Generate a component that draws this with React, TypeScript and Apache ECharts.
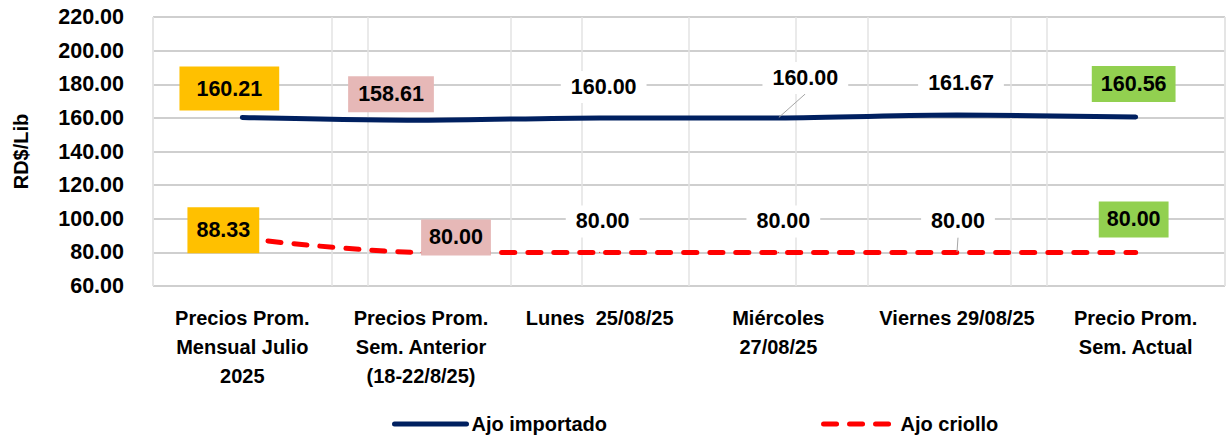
import React, { useEffect, useRef } from "react";
import * as echarts from "echarts";

const categories = [
  "Precios Prom.\nMensual Julio\n2025",
  "Precios Prom.\nSem. Anterior\n(18-22/8/25)",
  "Lunes  25/08/25",
  "Miércoles\n27/08/25",
  "Viernes 29/08/25",
  "Precio Prom.\nSem. Actual",
];
const importado = [160.21, 158.61, 160.0, 160.0, 161.67, 160.56];
const criollo = [88.33, 80.0, 80.0, 80.0, 80.0, 80.0];
const seriesNames = ["Ajo importado", "Ajo criollo"];
const yTicks = { min: 60, max: 220, interval: 20 };

const FONT = "'Liberation Sans', Arial, sans-serif";
const ORANGE = "#FFC000";
const PINK = "#E6B8B7";
const GREEN = "#92D050";
const bgColors = [ORANGE, PINK, "#FFFFFF", "#FFFFFF", "#FFFFFF", GREEN];

const blueOffsets = [
  [-13, -29],
  [-30, -26],
  [4, -31],
  [27, -40],
  [4, -32],
  [-2, -33],
];
const redOffsets = [
  [-19, -8],
  [35, -15],
  [3, -31],
  [5, -31],
  [1, -31],
  [-2, -33],
];
const bluePads = [
  [11, 17],
  [7, 10],
  [5, 10],
  [5, 10],
  [5, 10],
  [7, 9],
];
const redPads = [
  [12, 9],
  [7, 8],
  [5, 10],
  [5, 10],
  [5, 10],
  [7, 8],
];
const blueLeader = [false, false, false, true, false, false];
const redLeader = [false, false, false, false, true, false];

function buildData(values: number[], offsets: number[][], pads: number[][], leaders: boolean[]) {
  return values.map((v, i) => ({
    value: v,
    label: {
      offset: offsets[i],
      backgroundColor: bgColors[i],
      padding: pads[i],
    },
    labelLine: { show: leaders[i], lineStyle: { color: "#A6A6A6", width: 1 } },
  }));
}

export default function App() {
  const ref = useRef<HTMLDivElement>(null);
  useEffect(() => {
    if (!ref.current) return;
    const chart = echarts.init(ref.current, null, { renderer: "svg" });
    const labelBase = {
      show: true,
      position: "inside",
      fontFamily: FONT,
      fontWeight: "bold",
      fontSize: 21.5,
      color: "#000",
      formatter: (p: any) => Number(p.value).toFixed(2),
    };
    chart.setOption({
      animation: false,
      backgroundColor: "#fff",
      grid: { left: 153, right: 5, top: 17, bottom: 150, containLabel: false },
      xAxis: [
        {
          type: "category",
          data: categories,
          boundaryGap: true,
          axisLine: { show: false },
          axisTick: { show: false },
          axisLabel: {
            interval: 0,
            margin: 17,
            fontFamily: FONT,
            fontWeight: "bold",
            fontSize: 20,
            lineHeight: 29,
            color: "#000",
          },
          splitLine: { show: true, lineStyle: { color: "#E3E3E3", width: 1.5 } },
        },
        {
          type: "category",
          data: categories,
          boundaryGap: false,
          position: "bottom",
          axisLine: { show: false },
          axisTick: { show: false },
          axisLabel: { show: false },
          splitLine: { show: true, lineStyle: { color: "#E3E3E3", width: 1.5 } },
        },
      ],
      yAxis: {
        type: "value",
        min: yTicks.min,
        max: yTicks.max,
        interval: yTicks.interval,
        name: "RD$/Lib",
        nameLocation: "middle",
        nameGap: 122,
        nameTextStyle: { fontFamily: FONT, fontWeight: "bold", fontSize: 20, color: "#000" },
        axisLine: { show: false },
        axisTick: { show: false },
        axisLabel: {
          fontFamily: FONT,
          fontWeight: "bold",
          fontSize: 21.5,
          color: "#000",
          margin: 29,
          formatter: (v: number) => v.toFixed(2),
        },
        splitLine: { lineStyle: { color: "#BFBFBF", width: 1.5 } },
      },
      legend: {
        left: 387,
        top: 409,
        itemWidth: 72,
        itemHeight: 14,
        itemGap: 214,
        itemStyle: { opacity: 0 },
        lineStyle: { width: 5 },
        textStyle: { fontFamily: FONT, fontWeight: "bold", fontSize: 20, color: "#000" },
        data: seriesNames,
      },
      series: [
        {
          name: seriesNames[0],
          type: "line",
          xAxisIndex: 0,
          smooth: 0.3,
          symbol: "circle",
          symbolSize: 1,
          z: 3,
          itemStyle: { color: "#002060" },
          lineStyle: { color: "#002060", width: 5, cap: "round" },
          label: labelBase,
          data: buildData(importado, blueOffsets, bluePads, blueLeader),
        },
        {
          name: seriesNames[1],
          type: "line",
          xAxisIndex: 0,
          smooth: 0.3,
          symbol: "circle",
          symbolSize: 1,
          z: 2,
          itemStyle: { color: "#FF0000" },
          lineStyle: { color: "#FF0000", width: 5, type: [13, 13], cap: "round" },
          label: labelBase,
          data: buildData(criollo, redOffsets, redPads, redLeader),
        },
      ],
    });
    return () => chart.dispose();
  }, []);
  return (
    <div
      ref={ref}
      style={{ position: "absolute", left: 0, top: 0, width: 1230, height: 436 }}
    />
  );
}
